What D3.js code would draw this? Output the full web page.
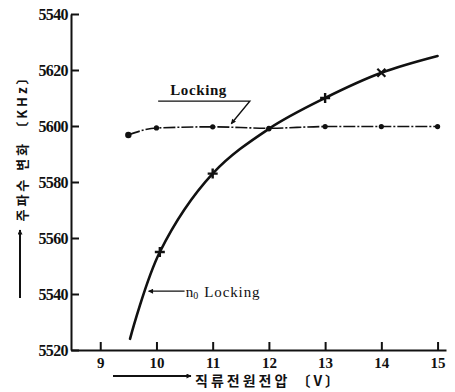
<!DOCTYPE html>
<html>
<head>
<meta charset="utf-8">
<script src="https://cdn.jsdelivr.net/npm/d3@7"></script>
<style>
  body { margin: 0; background: #fff; }
  svg { display: block; }
  .axis path, .axis line { stroke: #111; stroke-width: 2; }
  .axis text { font-family: "Liberation Serif", serif; font-weight: bold; fill: #111; }
</style>
</head>
<body>
<div id="chart"></div>
<script>
// supply voltage (V) vs frequency (KHz)
const voltTicks = [9, 10, 11, 12, 13, 14, 15];
const freqTicks = [5520, 5540, 5560, 5580, 5600, 5620, 5640];
const freqTickLabels = ["5520", "5540", "5560", "5580", "5600", "5620", "5540"]; // top label printed as 5540 in original

const lockVolts = [9.5, 10, 11, 12, 13, 14, 15];
const lockFreqs = [5596.8, 5599.3, 5599.7, 5599.2, 5599.8, 5599.8, 5599.8];

const freeVolts = [9.53, 10.06, 11, 12, 13, 14, 15];
const freeFreqs = [5524, 5555, 5583, 5599, 5610, 5619, 5625];
const freeMarks = [null, "+", "+", "dot", "+", "x", null];

(function () {
  const W = 455, H = 392;
  const margin = { top: 14, right: 9, bottom: 42, left: 71 };
  const width = W - margin.left - margin.right;
  const height = H - margin.top - margin.bottom;

  const svg = d3.select("#chart").append("svg").attr("width", W).attr("height", H);

  const defs = svg.append("defs");
  defs.append("marker")
    .attr("id", "arrow")
    .attr("viewBox", "0 0 10 10")
    .attr("refX", 9).attr("refY", 5)
    .attr("markerWidth", 7).attr("markerHeight", 5)
    .attr("markerUnits", "userSpaceOnUse")
    .attr("orient", "auto")
    .append("path").attr("d", "M0,0 L10,5 L0,10 Z").attr("fill", "#111");

  const g = svg.append("g").attr("transform", `translate(${margin.left},${margin.top})`);

  const x = d3.scaleLinear().domain([8.48, 15.15]).range([0, width]);
  const y = d3.scaleLinear().domain([5520, 5640]).range([height, 0]);

  g.append("g")
    .attr("class", "axis")
    .attr("transform", `translate(0,${height})`)
    .call(d3.axisBottom(x).tickValues(voltTicks).tickSizeInner(-8).tickSizeOuter(0).tickPadding(7).tickFormat(d3.format("d")))
    .call((a) => a.selectAll("text").attr("font-size", "15px"));

  g.append("g")
    .attr("class", "axis")
    .call(d3.axisLeft(y).tickValues(freqTicks).tickSizeInner(-8).tickSizeOuter(0).tickPadding(3)
      .tickFormat((d, i) => freqTickLabels[i]))
    .call((a) => a.selectAll("text").attr("font-size", "16px").attr("letter-spacing", "-0.6px"));

  // locking curve (dash-dot with dots)
  const lockData = lockVolts.map((v, i) => ({ v, f: lockFreqs[i] }));
  g.append("path")
    .datum(lockData)
    .attr("fill", "none")
    .attr("stroke", "#111")
    .attr("stroke-width", 1.6)
    .attr("stroke-dasharray", "12,2,2,2")
    .attr("d", d3.line().x((d) => x(d.v)).y((d) => y(d.f)).curve(d3.curveMonotoneX));
  g.selectAll(".lock-dot")
    .data(lockData)
    .join("circle")
    .attr("class", "lock-dot")
    .attr("cx", (d) => x(d.v))
    .attr("cy", (d) => y(d.f))
    .attr("r", (d, i) => (i === 0 ? 3.2 : 2.6))
    .attr("fill", "#111");

  // free-running curve
  const freeData = freeVolts.map((v, i) => ({ v, f: freeFreqs[i], m: freeMarks[i] }));
  g.append("path")
    .datum(freeData)
    .attr("fill", "none")
    .attr("stroke", "#111")
    .attr("stroke-width", 2.6)
    .attr("stroke-linecap", "round")
    .attr("d", d3.line().x((d) => x(d.v)).y((d) => y(d.f)).curve(d3.curveCatmullRom.alpha(0.5)));

  const marks = g.selectAll(".mark").data(freeData.filter((d) => d.m)).join("g")
    .attr("class", "mark")
    .attr("transform", (d) => `translate(${x(d.v)},${y(d.f)})`);
  marks.filter((d) => d.m === "+").append("path")
    .attr("d", "M-5,0 H5 M0,-5 V5").attr("stroke", "#111").attr("stroke-width", 2.4);
  marks.filter((d) => d.m === "x").append("path")
    .attr("d", "M-4,-4 L4,4 M-4,4 L4,-4").attr("stroke", "#111").attr("stroke-width", 2.2);
  marks.filter((d) => d.m === "dot").append("circle").attr("r", 2.6).attr("fill", "#111");

  // "Locking" annotation
  g.append("text")
    .attr("x", x(10.75)).attr("y", y(5611))
    .attr("text-anchor", "middle")
    .attr("font-family", "Liberation Serif, serif")
    .attr("font-weight", "bold")
    .attr("font-size", "15px")
    .attr("letter-spacing", "0.6px")
    .attr("fill", "#111")
    .text("Locking");
  g.append("path")
    .attr("d", `M${x(10.03)},${y(5608.9)} H${x(11.66)} L${x(11.33)},${y(5600.8)}`)
    .attr("fill", "none").attr("stroke", "#111").attr("stroke-width", 1.4)
    .attr("marker-end", "url(#arrow)");

  // "n0 Locking" annotation
  g.append("line")
    .attr("x1", x(10.5)).attr("y1", y(5541))
    .attr("x2", x(9.86)).attr("y2", y(5541))
    .attr("stroke", "#111").attr("stroke-width", 1.2)
    .attr("marker-end", "url(#arrow)");
  const n0 = g.append("text")
    .attr("x", x(10.52)).attr("y", y(5538.8))
    .attr("font-family", "Liberation Serif, serif")
    .attr("font-size", "15px")
    .attr("fill", "#111");
  n0.append("tspan").text("n");
  n0.append("tspan").attr("font-size", "10px").attr("dy", "2").text("0");
  n0.append("tspan").attr("dy", "-2").attr("dx", "6").attr("letter-spacing", "0.9px").text("Locking");

  // axis titles
  svg.append("text")
    .attr("transform", "translate(27,145) rotate(-90)")
    .attr("text-anchor", "middle")
    .attr("font-family", "Noto Sans CJK KR, sans-serif")
    .attr("font-weight", "bold")
    .attr("font-size", "13px")
    .attr("letter-spacing", "3px")
    .attr("fill", "#111")
    .text("주파수 변화 〔KHz〕");
  svg.append("line")
    .attr("x1", 20).attr("y1", 298).attr("x2", 20).attr("y2", 230)
    .attr("stroke", "#111").attr("stroke-width", 2)
    .attr("marker-end", "url(#arrow)");

  svg.append("line")
    .attr("x1", 113).attr("y1", 376).attr("x2", 191).attr("y2", 376)
    .attr("stroke", "#111").attr("stroke-width", 2)
    .attr("marker-end", "url(#arrow)");
  svg.append("text")
    .attr("x", 195).attr("y", 386)
    .attr("font-family", "Noto Sans CJK KR, sans-serif")
    .attr("font-weight", "bold")
    .attr("font-size", "14px")
    .attr("letter-spacing", "3px")
    .attr("fill", "#111")
    .text("직류전원전압 〔V〕");
})();
</script>
</body>
</html>
